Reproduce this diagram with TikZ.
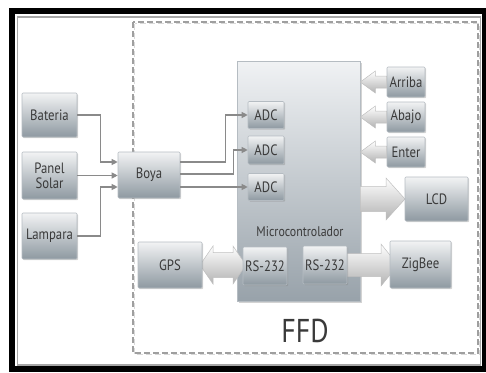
\documentclass[tikz,border=0pt]{standalone}
\usepackage{fontspec}
\newfontfamily\cond[FakeStretch=0.85]{PT Sans}
\usetikzlibrary{calc,shadows,arrows.meta}
\definecolor{textgray}{HTML}{3A3A3A}
\definecolor{boxtop}{HTML}{F2F3F4}
\definecolor{boxbot}{HTML}{8E99A1}
\definecolor{boxdraw}{HTML}{B5BCC2}
\definecolor{linegray}{HTML}{8A8A8A}
\definecolor{mcutop}{HTML}{F0F2F4}
\definecolor{mcubot}{HTML}{98A2AA}
\tikzset{
  gbox/.style={draw=boxdraw, line width=0.6pt, top color=boxtop, bottom color=boxbot,
    rounded corners=1pt, drop shadow={shadow xshift=1.2pt, shadow yshift=-1.2pt, opacity=0.35},
    text=textgray, font=\cond\fontsize{15}{16}\selectfont, inner sep=0pt, align=center},
  mcubox/.style={draw=boxdraw, line width=0.6pt, top color=mcutop, bottom color=mcubot,
    drop shadow={shadow xshift=1.5pt, shadow yshift=-1.5pt, opacity=0.35}, inner sep=0pt},
  wire/.style={draw=linegray, line width=1.1pt, -{Triangle[length=6pt,width=6pt]}},
  blk/.style={top color=white, bottom color=gray!60, draw=gray!50, line width=0.5pt},
  lbl/.style={text=textgray, inner sep=0pt}
}
\newcommand\blockarrow[5]{%
  \shade[blk] ($(#2)+(#3,-#4)$) -- (#2) -- ($(#2)+(#3,#4)$) -- ($(#2)+(#3,#5)$) --
    ($(#1)+(0,#5)$) -- ($(#1)+(0,-#5)$) -- ($(#2)+(#3,-#5)$) -- cycle;}
\newcommand\dblarrow[5]{%
  \shade[blk] (#1) -- ($(#1)+(#3,-#4)$) -- ($(#1)+(#3,-#5)$) -- ($(#2)+(-#3,-#5)$) --
    ($(#2)+(-#3,-#4)$) -- (#2) -- ($(#2)+(-#3,#4)$) -- ($(#2)+(-#3,#5)$) --
    ($(#1)+(#3,#5)$) -- ($(#1)+(#3,#4)$) -- cycle;}
\begin{document}
\begin{tikzpicture}[x=1pt,y=-1pt]
\useasboundingbox (0,0) rectangle (486,372);
% outer frame
\draw[black, line width=6pt] (12,11) rectangle (485,369);
\draw[gray!70, line width=1.5pt] (17.5,17) rectangle (480.5,365);
% FFD dashed area
\draw[gray!30, line width=1.8pt, dash pattern=on 6pt off 3pt] (134.5,23.5) rectangle (479.5,354.5);
\draw[gray!75, line width=1.8pt, dash pattern=on 6pt off 3pt] (133,22) rectangle (478,353);
\node[lbl, font=\cond\fontsize{33}{33}\selectfont] (ffd) at (305,331) {FFD};
% microcontroller
\node[mcubox, minimum width=123pt, minimum height=240pt] (mcu) at (298.5,181) {};
\node[lbl, font=\cond\fontsize{14}{15}\selectfont] (mcul) at (300,232) {Microcontrolador};
% left boxes
\node[gbox, minimum width=55pt, minimum height=44pt] (bat) at (49.5,115) {Bateria};
\node[gbox, minimum width=55pt, minimum height=47pt] (panel) at (49.5,175.5) {Panel\\[-1pt]Solar};
\node[gbox, minimum width=55pt, minimum height=46pt] (lamp) at (49.5,236) {Lampara};
\node[gbox, minimum width=62pt, minimum height=46pt] (boya) at (149,175) {Boya};
% right buttons
\node[gbox, minimum width=38pt, minimum height=30pt] (arriba) at (406,82) {Arriba};
\node[gbox, minimum width=38pt, minimum height=30pt] (abajo) at (406,117) {Abajo};
\node[gbox, minimum width=38pt, minimum height=30pt] (enter) at (406,152) {Enter};
% block arrow coordinates
\coordinate (tA) at (mcu.east |- arriba.west);
\coordinate (tB) at (mcu.east |- abajo.west);
\coordinate (tE) at (mcu.east |- enter.west);
\blockarrow{arriba.west}{tA}{15}{11}{6}
\blockarrow{abajo.west}{tB}{15}{11}{6}
\blockarrow{enter.west}{tE}{15}{11}{6}
\coordinate (lcdtail) at (mcu.east |- 0,199);
\coordinate (lcdtip) at (405,199);
\blockarrow{lcdtail}{lcdtip}{-19}{21}{12.5}
\coordinate (zbtail) at (346,265);
\coordinate (zbtip) at (398,265);
\blockarrow{zbtail}{zbtip}{-17}{21}{11.5}
\coordinate (gpsl) at (200,265);
\coordinate (gpsr) at (246,265);
\dblarrow{gpsl}{gpsr}{13}{19}{12.5}
% boxes over arrows
\node[gbox, minimum width=63pt, minimum height=44pt] (lcd) at (436.5,199) {LCD};
\node[gbox, minimum width=61pt, minimum height=47pt] (zigbee) at (420.5,264.5) {ZigBee};
\node[gbox, minimum width=64pt, minimum height=46pt] (gps) at (170,265) {GPS};
\node[gbox, minimum width=44pt, minimum height=38pt] (rs1) at (265,266) {RS-232};
\node[gbox, minimum width=44pt, minimum height=38pt] (rs2) at (325,265) {RS-232};
% ADCs
\node[gbox, minimum width=36pt, minimum height=27pt] (adc1) at (266,115) {ADC};
\node[gbox, minimum width=36pt, minimum height=28pt] (adc2) at (266,150) {ADC};
\node[gbox, minimum width=36pt, minimum height=27pt] (adc3) at (266,187) {ADC};
% thin wires into Boya
\draw[wire] (bat.east) -- ++(23,0) |- ($(boya.west)+(0,-13)$);
\draw[wire] (panel.east) -- (panel.east -| boya.west);
\draw[wire] (lamp.east) -- ++(23,0) |- ($(boya.west)+(0,12)$);
% Boya to ADCs
\draw[wire] ($(boya.east)+(0,-13)$) -- ++(45,0) |- (adc1.west);
\draw[wire] ($(boya.east)+(0,-1)$) -- ++(53,0) |- (adc2.west);
\draw[wire] ($(boya.east)+(0,12)$) -- (adc3.west);
\end{tikzpicture}
\end{document}
